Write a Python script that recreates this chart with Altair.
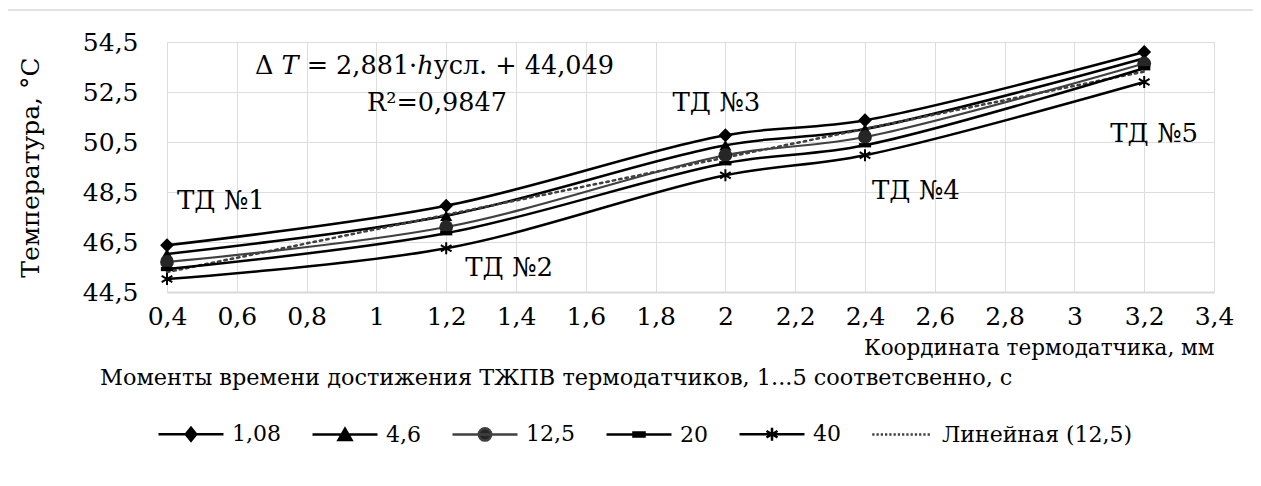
import altair as alt
import pandas as pd

# ---------------- data ----------------
coord = [0.4, 1.2, 2.0, 2.4, 3.2]
series_names = ["1,08", "4,6", "12,5", "20", "40"]
t_108 = [46.37, 47.95, 50.77, 51.37, 54.10]
t_46 = [46.02, 47.55, 50.37, 51.02, 53.85]
t_125 = [45.70, 47.10, 49.97, 50.70, 53.64]
t_20 = [45.42, 46.85, 49.65, 50.37, 53.45]
t_40 = [45.02, 46.25, 49.17, 49.97, 52.90]
trend_name = "Линейная (12,5)"
sensor_labels = ["ТД №1", "ТД №2", "ТД №3", "ТД №4", "ТД №5"]
x_ticks = [0.4, 0.6, 0.8, 1.0, 1.2, 1.4, 1.6, 1.8, 2.0, 2.2, 2.4, 2.6, 2.8, 3.0, 3.2, 3.4]
y_ticks = [44.5, 46.5, 48.5, 50.5, 52.5, 54.5]
equation_text = "Δ 𝑇 = 2,881·ℎусл.  + 44,049"
r2_text = "R²=0,9847"
x_title = "Координата термодатчика, мм"
y_title = "Температура, °C"
legend_title = "Моменты времени достижения ТЖПВ термодатчиков, 1...5 соответсвенно, с"

all_t = [t_108, t_46, t_125, t_20, t_40]
rows = []
for name, vals in zip(series_names, all_t):
    for xv, tv in zip(coord, vals):
        rows.append({"x": xv, "T": tv, "series": name})
df = pd.DataFrame(rows)

# ---------------- style ----------------
FONT = "DejaVu Serif"
W, H = 1047, 250
line_colors = ["#000000", "#000000", "#404040", "#000000", "#000000"]
marker_fill = ["#000000", "#000000", "#262626", "#000000", "#000000"]

STAR = "M0,-1V1M-0.87,-0.5L0.87,0.5M-0.87,0.5L0.87,-0.5"
DASH = "M-1,-0.35H1V0.35H-1Z"
marker_shapes = ["diamond", "triangle-up", "circle", DASH, STAR]
marker_sizes = [190, 150, 190, 150, 150]

xs = alt.Scale(domain=[0.4, 3.4], nice=False, zero=False)
ys = alt.Scale(domain=[44.5, 54.5], nice=False, zero=False)

X = alt.X("x:Q", scale=xs,
          axis=alt.Axis(values=x_ticks, title=x_title, grid=True, ticks=False,
                        labelExpr="replace(format(datum.value, '.1~f'), '.', ',')",
                        labelPadding=12, labelFontSize=25, titleFontSize=21.5,
                        labelFont=FONT, titleFont=FONT, labelFlush=False,
                        titleAnchor="end", titleAlign="right", titleX=W, titleY=56,
                        titleBaseline="middle", titleFontWeight="normal",
                        domain=True, domainColor="#d9d9d9", domainWidth=2))
Y = alt.Y("T:Q", scale=ys,
          axis=alt.Axis(values=y_ticks, title=y_title, grid=True, ticks=False,
                        labelExpr="replace(format(datum.value, '.1f'), '.', ',')",
                        labelPadding=29, labelFontSize=25, titleFontSize=25,
                        labelFont=FONT, titleFont=FONT, labelFlush=False,
                        titleAngle=-90, titleX=-137, titleY=H / 2,
                        titleAlign="center", titleBaseline="middle",
                        titleFontWeight="normal", domain=False))

layers = []

border = alt.Chart(pd.DataFrame({"a": [0]})).mark_rect(
    fill=None, stroke="#d9d9d9", strokeWidth=1.5).encode(
    x=alt.value(-162), x2=alt.value(1088), y=alt.value(-32), y2=alt.value(460))
layers.append(border)

base = alt.Chart(df)

trend = base.transform_filter(alt.datum.series == "12,5").transform_regression(
    "x", "T").mark_line(color="#404040", strokeWidth=2.5, strokeDash=[2.5, 4],
                        strokeCap="round").encode(x=X, y=Y)

for i, name in enumerate(series_names):
    sub = base.transform_filter(alt.datum.series == name)
    layers.append(sub.mark_line(color=line_colors[i], strokeWidth=2.5 if i != 2 else 2.2,
                                interpolate="catmull-rom").encode(x=X, y=Y))
layers.insert(4, trend)

for i, name in enumerate(series_names):
    sub = base.transform_filter(alt.datum.series == name)
    shp = marker_shapes[i]
    if shp == STAR:
        mk = sub.mark_point(shape=shp, size=marker_sizes[i], filled=False,
                            stroke="#000000", strokeWidth=2, opacity=1)
    else:
        mk = sub.mark_point(shape=shp, size=marker_sizes[i], filled=True,
                            fill=marker_fill[i], opacity=1, strokeWidth=0)
    layers.append(mk.encode(x=X, y=Y))

label_dx = [10, 19, -53, 7, -34]
label_dy = [-61, 41, -52, 54, 70]
lab_df = pd.DataFrame({"x": coord, "T": t_125, "lab": sensor_labels})
for i in range(5):
    layers.append(alt.Chart(lab_df.iloc[[i]]).mark_text(
        align="left", baseline="middle", font=FONT, fontSize=26,
        dx=label_dx[i], dy=label_dy[i], color="#000000").encode(
        x=X, y=Y, text="lab:N"))

txt_df = pd.DataFrame({"t": [equation_text, r2_text]})
layers.append(alt.Chart(txt_df.iloc[[0]]).mark_text(
    align="left", baseline="middle", font=FONT, fontSize=25.5, color="#000000").encode(
    x=alt.value(88), y=alt.value(24), text="t:N"))
layers.append(alt.Chart(txt_df.iloc[[1]]).mark_text(
    align="left", baseline="middle", font=FONT, fontSize=25.5, color="#000000").encode(
    x=alt.value(200), y=alt.value(61), text="t:N"))

layers.append(alt.Chart(pd.DataFrame({"t": [legend_title]})).mark_text(
    align="left", baseline="middle", font=FONT, fontSize=22.4, color="#000000").encode(
    x=alt.value(-67), y=alt.value(336), text="t:N"))

def diamond(s):
    return f"M0,-{s}L{s*0.8},0L0,{s}L-{s*0.8},0Z"

LINE = "M-1,0H1"
dots = "".join(f"M{p - 0.035:.3f},-0.035h0.07v0.07h-0.07Z" for p in
               [-0.85 + k * 0.131 for k in range(14)])
leg_paths = [
    LINE + diamond(0.2),
    LINE + "M0,-0.18L0.2,0.17L-0.2,0.17Z",
    LINE + "M-0.19,0A0.19,0.19 0 1,0 0.19,0A0.19,0.19 0 1,0 -0.19,0Z",
    LINE + "M-0.17,-0.06H0.17V0.06H-0.17Z",
    LINE + "M0,-0.2V0.2M-0.17,-0.1L0.17,0.1M-0.17,0.1L0.17,-0.1",
    dots,
]
leg_names = series_names + [trend_name]
leg_stroke = ["#000000", "#000000", "#404040", "#000000", "#000000", "transparent"]
leg_fill = ["#000000", "#000000", "#262626", "#000000", "#000000", "#404040"]
legend = alt.Legend(title=None, orient="none", legendX=-10, legendY=358,
                    direction="horizontal", labelFont=FONT, labelFontSize=22,
                    labelColor="#000000", symbolSize=4225, symbolStrokeWidth=2.5,
                    symbolOpacity=1, columnPadding=26, labelOffset=7, padding=0,
                    labelLimit=400)
leg_layer = alt.Chart(pd.DataFrame({"name": leg_names})).mark_point(
    filled=True, size=4225, clip=True, strokeWidth=2.5, opacity=1).encode(
    x=alt.value(-3000), y=alt.value(-3000),
    shape=alt.Shape("name:N", scale=alt.Scale(domain=leg_names, range=leg_paths), legend=legend),
    fill=alt.Fill("name:N", scale=alt.Scale(domain=leg_names, range=leg_fill), legend=legend),
    stroke=alt.Stroke("name:N", scale=alt.Scale(domain=leg_names, range=leg_stroke), legend=legend),
)
layers.append(leg_layer)

chart = alt.layer(*layers).properties(
    width=W, height=H,
    autosize=alt.AutoSizeParams(type="none"),
    padding={"left": 159, "top": 34, "right": 39, "bottom": 186},
    background="white",
).configure_view(stroke=None).configure_axis(
    gridColor="#d9d9d9", gridWidth=1.5, labelFont=FONT, titleFont=FONT,
    labelColor="#000000", titleColor="#000000", labelFlush=False, labelOverlap=False,
).configure_text(font=FONT).configure_legend(labelFont=FONT).configure(font=FONT)

chart.save("out.html", embed_options={"renderer": "svg", "actions": False})
